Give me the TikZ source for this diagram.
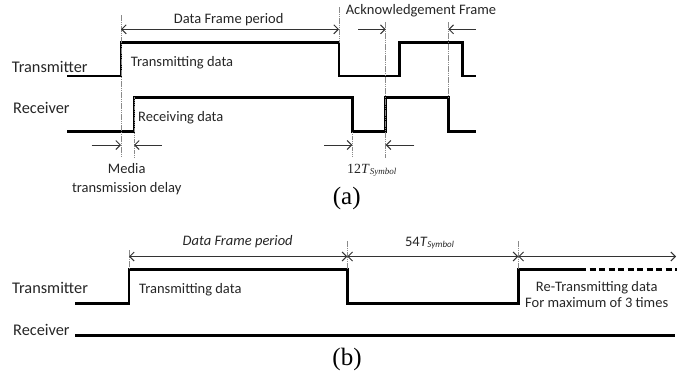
\documentclass[tikz,border=0pt]{standalone}
\usepackage{fontspec}
\setmainfont{Carlito}
\newfontfamily\tnr{Liberation Serif}
\usetikzlibrary{arrows.meta}
\definecolor{ink}{HTML}{262626}
\definecolor{dim}{HTML}{333333}
\definecolor{guide}{HTML}{8A8A8A}
\tikzset{
  sig/.style={line width=2.5bp, black, line join=miter},
  sigdash/.style={sig, dash pattern=on 6bp off 3.5bp},
  guideline/.style={line width=0.7bp, guide, dash pattern=on 1.5bp off 0.7bp},
  dim1/.style={line width=1bp, dim, -{Straight Barb[length=4.5bp,width=9bp]}},
  dim2/.style={line width=1bp, dim, {Straight Barb[length=4.5bp,width=9bp]}-{Straight Barb[length=4.5bp,width=9bp]}},
  big/.style={inner sep=0, text=ink, font=\fontsize{16.3bp}{19bp}\selectfont},
  lbl/.style={inner sep=0, text=ink, font=\fontsize{14.5bp}{17bp}\selectfont},
  figcap/.style={inner sep=0, text=black, font=\tnr\fontsize{25bp}{28bp}\selectfont},
}
\begin{document}
\begin{tikzpicture}[x=1bp,y=-1bp]
\useasboundingbox (0,0) rectangle (697,373);

% ---------------- (a) acknowledged transfer ----------------
% transmitter and receiver waveforms
\draw[sig] (67,76) -| (121,42.7) -| (339,76) -| (399.3,42.7) -| (462.3,76) -- (475.7,76);
\draw[sig] (67,131.7) -| (134,97.3) -| (352.3,131.7) -| (385.7,97.3) -| (448.3,131.7) -- (475.7,131.7);

% timing guides
\draw[guideline] (121,15) -- (121,157);
\draw[guideline] (134,97.3) -- (134,157);
\draw[guideline] (339,7) -- (339,42.7);
\draw[guideline] (352.3,131.7) -- (352.3,158);
\draw[guideline] (385.7,22) -- (385.7,158);
\draw[guideline] (448.3,22) -- (448.3,97.3);

% dimension points
\coordinate (dfL) at (121,29.3);
\coordinate (dfR) at (339,29.3);
\coordinate (akA) at (358.3,29.3);
\coordinate (akB) at (385.7,29.3);
\coordinate (akC) at (475.7,29.3);
\coordinate (akD) at (448.3,29.3);
\coordinate (mdA) at (91.7,145);
\coordinate (mdB) at (121,145);
\coordinate (mdC) at (161.7,145);
\coordinate (mdD) at (134,145);
\coordinate (ifA) at (324,145);
\coordinate (ifB) at (352.3,145);
\coordinate (ifC) at (414.3,145);
\coordinate (ifD) at (385.7,145);

\draw[dim2] (dfL) -- (dfR);
\draw[dim1] (akA) -- (akB);
\draw[dim1] (akC) -- (akD);
\draw[dim1] (mdA) -- (mdB);
\draw[dim1] (mdC) -- (mdD);
\draw[dim1] (ifA) -- (ifB);
\draw[dim1] (ifC) -- (ifD);

% labels
\node[big, anchor=base west] (txa) at (11.7,72) {Transmitter};
\node[big, anchor=base west] (rxa) at (13,113.3) {Receiver};
\node[lbl, anchor=base west] (txda) at (130.7,66.3) {Transmitting data};
\node[lbl, anchor=base west] (rxda) at (138,121.8) {Receiving data};
\node[lbl, anchor=base] (dfa) at (228.7,23) {Data Frame period};
\node[lbl, anchor=base] (ack) at (421,14.5) {Acknowledgement Frame};
\node[lbl, anchor=base] (md1) at (126.7,173.5) {Media};
\node[lbl, anchor=base] (md2) at (126.7,192.5) {transmission delay};
\node[inner sep=0, text=ink, anchor=base] (ifs) at (371.7,173)
  {\tnr\fontsize{14bp}{16bp}\selectfont 12\textit{T}\raisebox{-1.5bp}{\fontsize{9bp}{10bp}\selectfont\itshape Symbol}};
\node[figcap, anchor=base] (capa) at (346.7,204) {(a)};

% ---------------- (b) unacknowledged, retransmission ----------------
\draw[sig] (75,303.3) -| (129,269.3) -| (347.3,303.3) -| (518.3,269.3) -- (580,269.3);
\draw[sigdash] (580,269.3) -- (676.7,269.3);
\draw[sig] (75,335.7) -- (675,335.7);

\draw[guideline] (129,250) -- (129,269.3);
\draw[guideline] (347.3,241) -- (347.3,269.3);
\draw[guideline] (518.3,241) -- (518.3,269.3);

\coordinate (pA) at (129,256.5);
\coordinate (pB) at (347.3,256.5);
\coordinate (pC) at (518.3,256.5);
\coordinate (pD) at (676,256.5);
\draw[dim2] (pA) -- (pB);
\draw[dim2] (pB) -- (pC);
\draw[dim2] (pC) -- (pD);

\node[big, anchor=base west] (txb) at (12,293.3) {Transmitter};
\node[big, anchor=base west] (rxb) at (13,335) {Receiver};
\node[lbl, anchor=base west] (txdb) at (139,293.3) {Transmitting data};
\node[lbl, anchor=base] (dfb) at (237.7,245) {\itshape Data Frame period};
\node[inner sep=0, text=ink, anchor=base] (wait) at (429.5,246)
  {\fontsize{14.5bp}{17bp}\selectfont 54\textit{T}\raisebox{-1.2bp}{\fontsize{9bp}{10bp}\selectfont\itshape Symbol}};
\node[lbl, anchor=base] (re1) at (596.7,291.7) {Re-Transmitting data};
\node[lbl, anchor=base] (re2) at (596.7,307.7) {For maximum of 3 times};
\node[figcap, anchor=base] (capb) at (347,365.5) {(b)};
\end{tikzpicture}
\end{document}
